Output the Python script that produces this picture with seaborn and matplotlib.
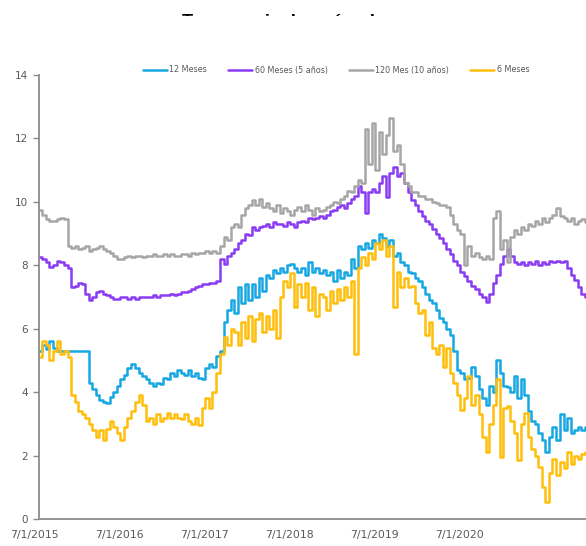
import matplotlib
matplotlib.use("Agg")
import matplotlib.pyplot as plt
from matplotlib.transforms import ScaledTranslation
from matplotlib.patches import Rectangle
from matplotlib.lines import Line2D
import numpy as np
import pandas as pd
import seaborn as sns

# Semi-monthly observation dates (1st and 15th of each month)
dates = pd.date_range("2015-07-01", periods=156, freq="SMS")

series_names = ["12 Meses", "60 Meses (5 años)", "120 Mes (10 años)", "6 Meses"]
series_colors = ["#17A8E3", "#8A3CF2", "#A6A6A6", "#FFBE0B"]

tasa_12m = [
    5.3, 5.5, 5.35, 5.6, 5.4, 5.3, 5.3, 5.3, 5.3, 5.3, 5.3, 5.3, 5.3, 5.3,
    4.3, 4.1, 3.9, 3.75, 3.7, 3.65, 3.85, 4.0, 4.2, 4.4, 4.55, 4.75, 4.9, 4.75,
    4.6, 4.5, 4.4, 4.3, 4.2, 4.3, 4.25, 4.45, 4.4, 4.6, 4.5, 4.7, 4.6, 4.55,
    4.7, 4.5, 4.6, 4.45, 4.4, 4.75, 4.9, 4.8, 5.15, 5.3, 6.2, 6.6, 6.9, 6.5,
    7.3, 6.8, 7.4, 6.9, 7.4, 7.0, 7.6, 7.2, 7.7, 7.6, 7.85, 7.75, 7.9, 7.8,
    8.0, 8.05, 7.9, 7.8, 7.9, 7.7, 8.1, 7.8, 7.9, 7.75, 7.85, 7.7, 7.8, 7.5,
    7.85, 7.6, 7.8, 7.7, 8.2, 7.9, 8.6, 8.5, 8.7, 8.55, 8.8, 8.7, 9.0, 8.85,
    8.6, 8.8, 8.3, 8.4, 8.1, 8.0, 7.8, 7.75, 7.6, 7.5, 7.3, 7.1, 6.9, 6.8,
    6.6, 6.35, 6.2, 6.0, 5.8, 5.3, 4.7, 4.6, 4.4, 4.45, 4.8, 4.5, 4.1, 3.8,
    3.6, 4.2, 4.0, 5.0, 4.6, 4.2, 4.15, 4.0, 4.5, 3.8, 4.4, 3.9, 3.4, 3.1,
    3.0, 2.7, 2.5, 2.1, 2.6, 2.9, 2.5, 3.3, 2.8, 3.2, 2.7, 2.8, 2.9, 2.8,
    2.9, 2.9,
]

tasa_60m = [
    8.25, 8.2, 8.1, 7.95, 8.0, 8.15, 8.1, 8.0, 7.9, 7.3, 7.35, 7.45, 7.4, 7.1,
    6.9, 7.0, 7.15, 7.2, 7.1, 7.05, 7.0, 6.95, 6.95, 7.0, 7.0, 6.95, 7.0, 6.95,
    7.0, 7.0, 7.0, 7.0, 7.05, 7.0, 7.05, 7.05, 7.05, 7.1, 7.05, 7.1, 7.15, 7.15,
    7.2, 7.25, 7.3, 7.35, 7.4, 7.4, 7.45, 7.45, 7.5, 8.2, 8.05, 8.3, 8.4, 8.5,
    8.7, 8.8, 9.0, 8.95, 9.2, 9.1, 9.2, 9.25, 9.3, 9.2, 9.35, 9.3, 9.3, 9.25,
    9.35, 9.3, 9.2, 9.35, 9.4, 9.35, 9.5, 9.45, 9.5, 9.55, 9.5, 9.6, 9.7, 9.75,
    9.85, 9.9, 9.8, 9.95, 10.1, 10.2, 10.5, 10.3, 9.65, 10.3, 10.4, 10.3, 10.6, 10.8,
    10.15, 10.9, 11.1, 10.8, 10.9, 10.6, 10.3, 10.05, 9.9, 9.7, 9.55, 9.4, 9.3, 9.15,
    9.0, 8.85, 8.7, 8.5, 8.35, 8.15, 8.0, 7.8, 7.65, 7.5, 7.35, 7.25, 7.1, 7.0,
    6.85, 7.1, 7.45, 7.7, 8.05, 8.3, 8.5, 8.3, 8.1, 8.05, 8.1, 8.0, 8.1, 8.05,
    8.15, 8.0, 8.1, 8.05, 8.15, 8.1, 8.15, 8.1, 8.15, 7.9, 7.7, 7.55, 7.3, 7.1,
    7.0, 6.95,
]

tasa_120m = [
    9.75, 9.6, 9.45, 9.4, 9.4, 9.45, 9.5, 9.45, 8.6, 8.55, 8.6, 8.5, 8.55, 8.6,
    8.45, 8.5, 8.55, 8.6, 8.5, 8.45, 8.4, 8.3, 8.2, 8.2, 8.25, 8.3, 8.25, 8.3,
    8.3, 8.25, 8.3, 8.3, 8.35, 8.3, 8.3, 8.35, 8.3, 8.35, 8.3, 8.3, 8.35, 8.35,
    8.3, 8.4, 8.35, 8.4, 8.4, 8.45, 8.4, 8.45, 8.4, 8.6, 8.9, 8.8, 9.2, 9.3,
    9.2, 9.6, 9.8, 9.9, 10.05, 9.9, 10.1, 9.85, 9.95, 9.8, 9.7, 9.9, 9.65, 9.8,
    9.7, 9.6, 9.75, 9.85, 9.7, 9.9, 9.75, 9.6, 9.8, 9.7, 9.75, 9.85, 9.9, 10.0,
    9.95, 10.1, 10.2, 10.35, 10.3, 10.5, 10.7, 10.6, 12.3, 11.2, 12.5, 11.0, 12.2, 11.5,
    12.1, 12.65, 11.6, 11.8, 11.2, 10.6, 10.5, 10.3, 10.3, 10.2, 10.2, 10.1, 10.1, 10.0,
    9.95, 9.9, 9.9, 9.85, 9.6, 9.3, 9.1, 9.0, 8.0, 8.6, 8.3, 8.4, 8.25, 8.2,
    8.3, 8.2, 9.5, 9.7, 8.5, 8.8, 8.1, 8.9, 9.1, 9.0, 9.2, 9.1, 9.3, 9.25,
    9.4, 9.3, 9.5, 9.35, 9.5, 9.6, 9.8, 9.55, 9.5, 9.4, 9.5, 9.3, 9.4, 9.45,
    9.35, 9.3,
]

tasa_6m = [
    5.1, 5.6, 5.5, 5.0, 5.3, 5.6, 5.2, 5.3, 5.1, 3.9, 3.7, 3.4, 3.3, 3.2,
    3.0, 2.8, 2.6, 2.8, 2.5, 2.85, 3.1, 2.9, 2.7, 2.5, 2.9, 3.2, 3.4, 3.7,
    3.9, 3.6, 3.1, 3.2, 3.0, 3.3, 3.1, 3.2, 3.35, 3.2, 3.3, 3.2, 3.15, 3.3,
    3.1, 3.0, 3.2, 2.95, 3.5, 3.8, 3.5, 4.0, 4.6, 5.2, 5.75, 5.5, 6.0, 5.9,
    5.5, 6.2, 5.7, 6.4, 5.6, 6.3, 6.5, 5.9, 6.4, 6.0, 6.6, 5.7, 7.0, 7.5,
    7.3, 7.75, 6.7, 7.4, 7.0, 7.45, 6.6, 7.3, 6.4, 7.1, 7.0, 6.6, 7.2, 6.8,
    7.25, 6.9, 7.3, 7.0, 7.5, 5.2, 7.9, 8.25, 8.0, 8.4, 8.2, 8.7, 8.5, 8.8,
    8.3, 8.6, 6.7, 7.8, 7.3, 7.6, 7.3, 7.35, 6.8, 6.5, 6.6, 5.8, 6.2, 5.4,
    5.2, 5.5, 4.8, 5.4, 4.6, 4.3, 3.9, 3.45, 3.8, 4.5, 3.6, 3.9, 3.3, 2.6,
    2.1, 3.0, 3.6, 4.4, 1.95, 3.5, 3.55, 3.1, 2.7, 1.85, 3.0, 3.35, 2.6, 2.2,
    2.0, 1.65, 1.0, 0.55, 1.45, 1.9, 1.4, 1.8, 1.6, 2.1, 1.75, 2.0, 1.9, 2.05,
    2.1, 2.1,
]

y_ticks = [0, 2, 4, 6, 8, 10, 12, 14]
x_tick_years = [2015, 2016, 2017, 2018, 2019, 2020]
title_text = "Tasa nominal según plazo"

df = pd.DataFrame({"fecha": dates, **dict(zip(series_names,
                                              [tasa_12m, tasa_60m, tasa_120m, tasa_6m]))})
long_df = df.melt(id_vars="fecha", var_name="serie", value_name="tasa")

sns.set_style("white")
plt.rcParams["font.family"] = ["DejaVu Sans"]

W, H = 586, 546
fig = plt.figure(figsize=(W / 100, H / 100), dpi=100)
fig.patch.set_facecolor("white")

# plot area: left edge at x=39px, bottom at y=519px, top at y=75px; it runs past the right border
ax_left, ax_right, ax_top, ax_bottom = 39, 660, 75, 519
ax = fig.add_axes([ax_left / W, (H - ax_bottom) / H,
                   (ax_right - ax_left) / W, (ax_bottom - ax_top) / H])

palette = dict(zip(series_names, series_colors))
sns.lineplot(data=long_df, x="fecha", y="tasa", hue="serie", hue_order=series_names,
             palette=palette, linewidth=1.8, drawstyle="steps-post",
             legend=False, ax=ax)

start = pd.Timestamp("2015-07-01")
px_per_year = 85.0
x_end = start + pd.Timedelta(days=(ax_right - ax_left) / px_per_year * 365.25)
ax.set_xlim(start, x_end)
ax.set_ylim(0, 14)
ax.set_yticks(y_ticks)
ax.set_yticklabels([str(v) for v in y_ticks])

tick_dates = [pd.Timestamp(f"{y}-07-01") for y in x_tick_years]
ax.set_xticks(tick_dates)
ax.set_xticklabels([f"7/1/{y}" for y in x_tick_years])

ax.set_xlabel("")
ax.set_ylabel("")

for side in ["top", "right"]:
    ax.spines[side].set_visible(False)
for side in ["left", "bottom"]:
    ax.spines[side].set_color("#8C8C8C")
    ax.spines[side].set_linewidth(1.3)

ax.tick_params(axis="y", length=4, width=1, color="#8C8C8C", pad=4,
               labelsize=7.5, labelcolor="#595959", direction="out", left=True)
ax.tick_params(axis="x", length=0, pad=8, labelsize=7.8, labelcolor="#595959")

# date labels sit a few pixels left of their anchor
shift = ScaledTranslation(-5 / 100, 0, fig.dpi_scale_trans)
for lab in ax.get_xticklabels():
    lab.set_transform(lab.get_transform() + shift)

# legend across the top
handles = [Line2D([0], [0], color=c, lw=1.8) for c in series_colors]
fig.legend(handles, series_names, loc="center", bbox_to_anchor=(336 / W, 1 - 70 / H),
           ncol=4, frameon=False, fontsize=5.8, labelcolor="#595959",
           handlelength=3.0, handletextpad=0.3, columnspacing=2.6)

# heading; a white band hides all but its upper edge
fig.text(0.5, (H - 27) / H, title_text, ha="center", va="baseline",
         fontsize=13, fontweight="bold", family="Liberation Sans", color="black",
         zorder=1)
fig.patches.append(Rectangle((0, (H - 50) / H), 1, 34 / H, transform=fig.transFigure,
                             facecolor="white", edgecolor="none", zorder=5))

fig.savefig("out.png", dpi=100, facecolor="white")
